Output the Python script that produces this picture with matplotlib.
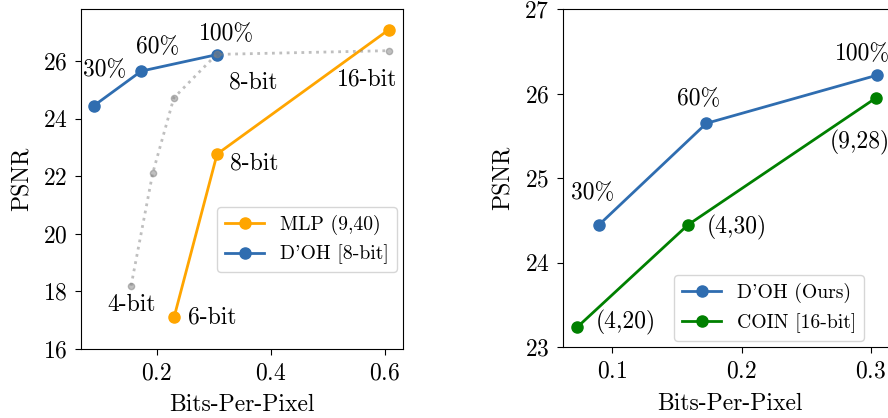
import matplotlib
matplotlib.use("Agg")
import matplotlib.pyplot as plt

plt.rcParams['font.family'] = 'cmr10'
plt.rcParams['mathtext.fontset'] = 'cm'
plt.rcParams['axes.formatter.use_mathtext'] = True
plt.rcParams['font.size'] = 17
plt.rcParams['legend.fontsize'] = 14.2
plt.rcParams['xtick.major.size'] = 4.5
plt.rcParams['ytick.major.size'] = 4.5
plt.rcParams['xtick.major.pad'] = 5
plt.rcParams['ytick.major.pad'] = 5
plt.rcParams['axes.labelpad'] = 7

# left panel: D'OH vs MLP
doh_bpp = [0.0897, 0.1728, 0.305]
doh_psnr = [24.45, 25.65, 26.22]
doh_labels = ["30%", "60%", "100%"]

mlp_bpp = [0.2304, 0.306, 0.607]
mlp_psnr = [17.1, 22.77, 27.08]
mlp_labels = ["6-bit", "8-bit", "16-bit"]

quant_bpp = [0.155, 0.193, 0.230, 0.305, 0.607]
quant_psnr = [18.2, 22.11, 24.72, 26.23, 26.36]

# right panel: D'OH vs COIN
coin_bpp = [0.0729, 0.1586, 0.304]
coin_psnr = [23.24, 24.45, 25.95]
coin_labels = ["(4,20)", "(4,30)", "(9,28)"]

blue = '#2f6db0'
orange = '#ffa500'
green = '#008000'

fig = plt.figure(figsize=(8.88, 4.18), dpi=100)
ax1 = fig.add_axes([0.0912, 0.165, 0.3630, 0.813])
ax2 = fig.add_axes([0.6337, 0.169, 0.3760, 0.809])

ax1.plot(mlp_bpp, mlp_psnr, '-o', color=orange, lw=2, ms=8, label='MLP (9,40)')
ax1.plot(doh_bpp, doh_psnr, '-o', color=blue, lw=2, ms=8, label="D'OH [8-bit]")
ax1.plot(quant_bpp, quant_psnr, ':o', color='gray', alpha=0.5, lw=2, ms=4.5)

off_doh1 = [(11, 36), (16, 24), (10, 21)]
for x, y, t, o in zip(doh_bpp, doh_psnr, doh_labels, off_doh1):
    ax1.annotate(t, (x, y), xytext=o, textcoords='offset pixels', ha='center', va='center')

off_mlp = [(38, 0), (37, -9), (-21, -50)]
for x, y, t, o in zip(mlp_bpp, mlp_psnr, mlp_labels, off_mlp):
    ax1.annotate(t, (x, y), xytext=o, textcoords='offset pixels', ha='center', va='center')

ax1.annotate("4-bit", (quant_bpp[0], quant_psnr[0]), xytext=(1, -19),
             textcoords='offset pixels', ha='center', va='center')
ax1.annotate("8-bit", (quant_bpp[3], quant_psnr[3]), xytext=(37, -28),
             textcoords='offset pixels', ha='center', va='center')

ax1.set_xlim(0.067, 0.633)
ax1.set_ylim(16, 27.8)
ax1.set_xticks([0.2, 0.4, 0.6])
ax1.set_yticks([16, 18, 20, 22, 24, 26])
ax1.set_xlabel('Bits-Per-Pixel')
ax1.set_ylabel('PSNR')
ax1.legend(loc='lower left', bbox_to_anchor=(0.422, 0.226), borderaxespad=0)

ax2.plot(doh_bpp, doh_psnr, '-o', color=blue, lw=2, ms=8, label="D'OH (Ours)")
ax2.plot(coin_bpp, coin_psnr, '-o', color=green, lw=2, ms=8, label='COIN [16-bit]')

off_doh2 = [(-6, 32), (-8, 24), (-15, 21)]
for x, y, t, o in zip(doh_bpp, doh_psnr, doh_labels, off_doh2):
    ax2.annotate(t, (x, y), xytext=o, textcoords='offset pixels', ha='center', va='center')

off_coin = [(48, 5), (49, -3), (-16, -44)]
for x, y, t, o in zip(coin_bpp, coin_psnr, coin_labels, off_coin):
    ax2.annotate(t, (x, y), xytext=o, textcoords='offset pixels', ha='center', va='center')

ax2.set_xlim(0.0616, 0.32)
ax2.set_ylim(23, 27)
ax2.set_xticks([0.1, 0.2, 0.3])
ax2.set_yticks([23, 24, 25, 26, 27])
ax2.set_xlabel('Bits-Per-Pixel')
ax2.set_ylabel('PSNR')
ax2.legend(loc='lower left', bbox_to_anchor=(0.333, 0.02), borderaxespad=0)

fig.savefig('out.png', dpi=100)
